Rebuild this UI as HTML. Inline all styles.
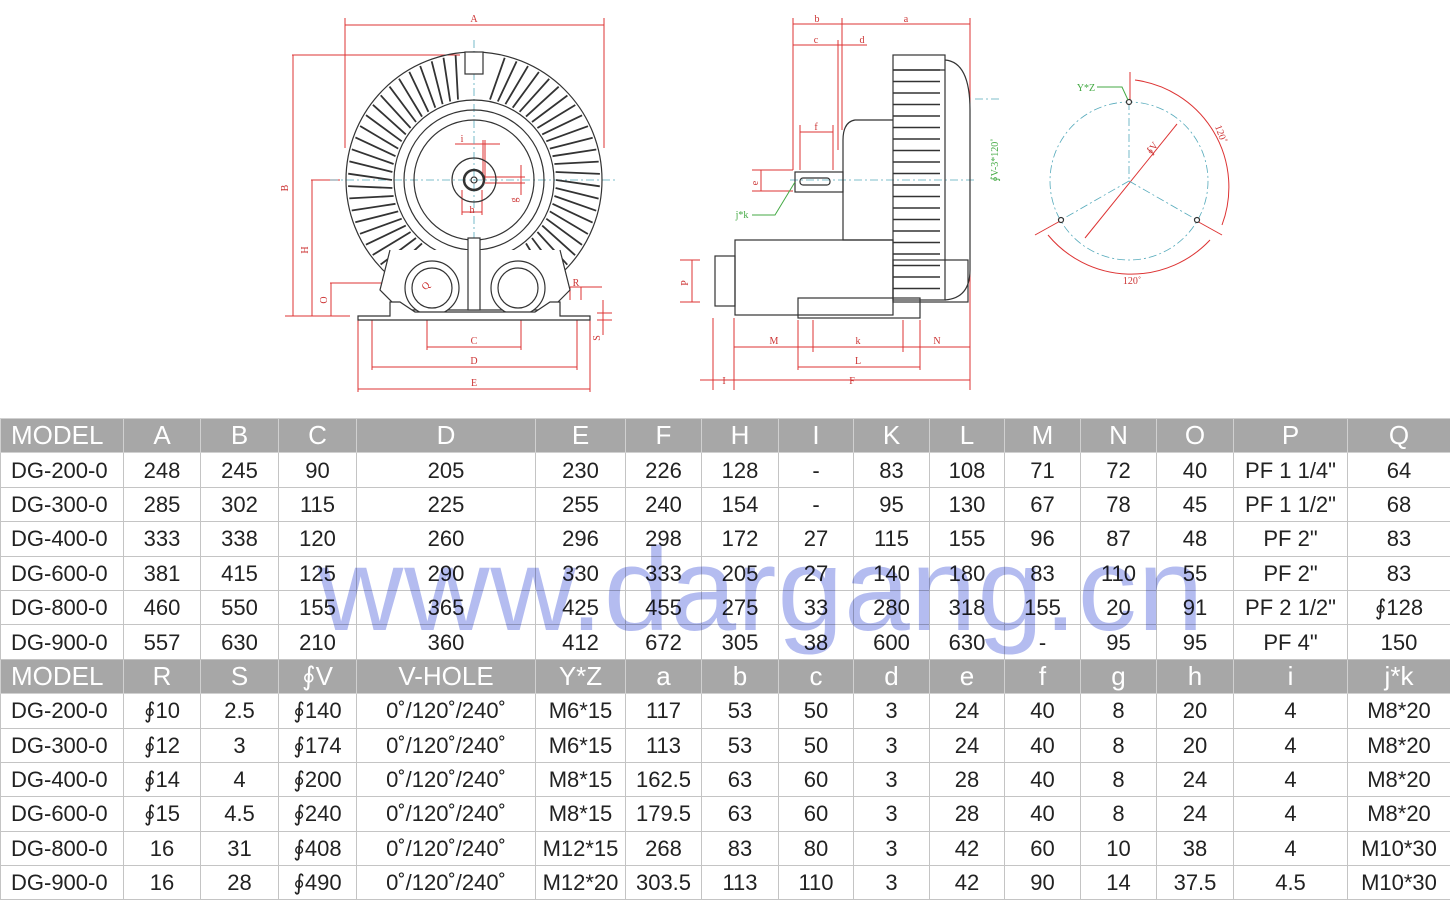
<!DOCTYPE html>
<html><head><meta charset="utf-8"><style>
body{margin:0;width:1450px;height:900px;background:#fff;position:relative;overflow:hidden;font-family:"Liberation Sans",sans-serif}
svg{position:absolute;left:0;top:0}
table{position:absolute;left:0;top:418px;width:1450px;border-collapse:collapse;table-layout:fixed}
td{height:33.4px;padding:0;text-align:center;font-size:22px;color:#222;border:1px solid #c4c4c4;line-height:33px;white-space:nowrap}
tr.h td{background:#a7a7a7;color:#fff;font-size:26px;border-color:#d0d0d0}
td:first-child{text-align:left;padding-left:10px}
#wm{position:absolute;left:318px;top:522px;font-size:118px;color:#b4bcf0;mix-blend-mode:multiply;letter-spacing:1px;font-family:"Liberation Sans",sans-serif;z-index:5}
</style></head><body>
<svg width="1450" height="418" viewBox="0 0 1450 418" font-family="Liberation Serif" font-size="10">
<g stroke="#d33" stroke-width="1" fill="none">
<line x1="345" y1="25" x2="604" y2="25"/><line x1="345" y1="18" x2="345" y2="148"/><line x1="604" y1="18" x2="604" y2="148"/>
<line x1="292" y1="55" x2="460" y2="55"/><line x1="293" y1="55" x2="293" y2="316"/>
<line x1="311" y1="180" x2="340" y2="180"/><line x1="312" y1="180" x2="312" y2="316"/>
<line x1="330" y1="283" x2="420" y2="283"/><line x1="331" y1="283" x2="331" y2="316"/>
<line x1="285" y1="316" x2="350" y2="316"/>
<line x1="427" y1="290" x2="427" y2="350"/><line x1="521" y1="290" x2="521" y2="350"/><line x1="427" y1="347" x2="521" y2="347"/>
<line x1="372" y1="320" x2="372" y2="370"/><line x1="577" y1="320" x2="577" y2="370"/><line x1="372" y1="367" x2="577" y2="367"/>
<line x1="358" y1="320" x2="358" y2="392"/><line x1="590" y1="320" x2="590" y2="392"/><line x1="358" y1="389" x2="590" y2="389"/>
<line x1="570" y1="287" x2="602" y2="287"/><line x1="570" y1="287" x2="570" y2="300"/><line x1="581" y1="287" x2="581" y2="300"/>
<line x1="603" y1="300" x2="603" y2="335"/><line x1="597" y1="313" x2="612" y2="313"/><line x1="597" y1="320" x2="612" y2="320"/>
<line x1="400" y1="268" x2="445" y2="310"/>
<line x1="455" y1="144" x2="500" y2="144"/><line x1="483" y1="140" x2="483" y2="180"/><line x1="485" y1="140" x2="485" y2="180"/>
<line x1="485" y1="177" x2="525" y2="177"/><line x1="485" y1="183" x2="525" y2="183"/><line x1="521" y1="165" x2="521" y2="195"/>
<line x1="462" y1="190" x2="462" y2="215"/><line x1="482" y1="190" x2="482" y2="215"/><line x1="462" y1="212" x2="482" y2="212"/>
<line x1="793" y1="24" x2="970" y2="24"/><line x1="793" y1="18" x2="793" y2="170"/><line x1="842" y1="18" x2="842" y2="130"/><line x1="970" y1="18" x2="970" y2="390"/>
<line x1="793" y1="45" x2="867" y2="45"/><line x1="838" y1="40" x2="838" y2="150"/>
<line x1="800" y1="132" x2="833" y2="132"/><line x1="800" y1="125" x2="800" y2="170"/><line x1="833" y1="125" x2="833" y2="170"/>
<line x1="752" y1="170" x2="793" y2="170"/><line x1="752" y1="191" x2="793" y2="191"/><line x1="761" y1="170" x2="761" y2="191"/>
<line x1="680" y1="260" x2="700" y2="260"/><line x1="680" y1="302" x2="700" y2="302"/><line x1="692" y1="260" x2="692" y2="302"/>
<line x1="713" y1="318" x2="713" y2="390"/><line x1="734" y1="318" x2="734" y2="390"/><line x1="700" y1="380" x2="970" y2="380"/>
<line x1="734" y1="347" x2="970" y2="347"/><line x1="798" y1="320" x2="798" y2="370"/><line x1="813" y1="320" x2="813" y2="352"/><line x1="903" y1="320" x2="903" y2="352"/><line x1="920" y1="320" x2="920" y2="370"/>
<line x1="798" y1="367" x2="920" y2="367"/>
<line x1="1085" y1="238" x2="1177" y2="124"/>
<line x1="1130" y1="72" x2="1130" y2="100"/>
<path d="M1135 80 A108 108 0 0 1 1222 225"/><path d="M1048 235 A108 108 0 0 0 1210 240"/>
<line x1="1195" y1="220" x2="1222" y2="235"/><line x1="1035" y1="235" x2="1062" y2="220"/>
</g>
<g stroke="#5ab" stroke-width="0.8" fill="none" stroke-dasharray="8,3,2,3">
<circle cx="1129" cy="181" r="79"/>
<line x1="1129" y1="102" x2="1129" y2="181"/><line x1="1129" y1="181" x2="1061" y2="220"/><line x1="1129" y1="181" x2="1197" y2="220"/>
<line x1="474" y1="40" x2="474" y2="320"/><line x1="330" y1="180" x2="615" y2="180"/>
<line x1="790" y1="180" x2="975" y2="180"/><line x1="975" y1="99" x2="1000" y2="99"/>
</g>
<g fill="#fff" stroke="#333" stroke-width="1.2">
<circle cx="1129" cy="102" r="2.5"/><circle cx="1061" cy="220" r="2.5"/><circle cx="1197" cy="220" r="2.5"/>
</g>
<g stroke="#333" stroke-width="1.8"><path id="fins" d=""/></g>
<g stroke="#333" fill="none" stroke-width="1.2">
<circle cx="474" cy="180" r="128"/><circle cx="474" cy="180" r="80"/><circle cx="474" cy="180" r="70"/><circle cx="474" cy="180" r="60"/>
<circle cx="474" cy="180" r="22"/><circle cx="474" cy="180" r="10" stroke-width="2.5"/><circle cx="474" cy="180" r="3"/>
<path d="M390 250 L380 290 L400 310 L550 310 L570 290 L560 250" fill="#fff"/>
<circle cx="432" cy="288" r="27" fill="#fff"/><circle cx="518" cy="288" r="27" fill="#fff"/>
<circle cx="432" cy="288" r="20"/><circle cx="518" cy="288" r="20"/>
<rect x="468" y="238" width="12" height="72" fill="#fff"/>
<rect x="465" y="52" width="18" height="22" fill="#fff"/>
<path d="M358 316 L390 316 L390 302 L400 302 L415 312 L535 312 L550 302 L560 302 L560 316 L590 316 L590 320 L358 320 Z" fill="#fff"/>
</g>
<g stroke="#333" fill="none" stroke-width="1.2">
<rect x="893" y="55" width="52" height="245"/><path d="M945 60 Q970 62 970 110 L970 270 Q970 298 945 300"/>
<path d="M893 120 L855 120 Q843 122 843 140 L843 240 L893 240"/>
<rect x="795" y="172" width="48" height="20"/><rect x="800" y="178" width="30" height="7" rx="3"/>
<rect x="735" y="240" width="158" height="75"/><rect x="715" y="256" width="20" height="50"/>
<rect x="798" y="298" width="122" height="20"/><rect x="893" y="260" width="75" height="42"/>
<line x1="893" y1="70" x2="945" y2="70"/>
</g>
<g stroke="#333" stroke-width="1.6" id="sfins"></g>
<g font-family="Liberation Serif" font-size="10" fill="#c33" text-anchor="middle">
<text x="474" y="22">A</text><text x="288" y="188" transform="rotate(-90 288 188)">B</text><text x="308" y="250" transform="rotate(-90 308 250)">H</text>
<text x="327" y="300" transform="rotate(-90 327 300)">O</text><text x="474" y="344">C</text><text x="474" y="364">D</text><text x="474" y="386">E</text>
<text x="576" y="286">R</text><text x="600" y="338" transform="rotate(-90 600 338)">S</text><text x="428" y="288" transform="rotate(-45 428 288)">Q</text>
<text x="462" y="142">i</text><text x="472" y="213">h</text><text x="517" y="200" transform="rotate(-90 517 200)">g</text>
<text x="817" y="22">b</text><text x="906" y="22">a</text><text x="816" y="43">c</text><text x="862" y="43">d</text><text x="816" y="130">f</text>
<text x="758" y="183" transform="rotate(-90 758 183)">e</text><text x="688" y="283" transform="rotate(-90 688 283)">P</text>
<text x="774" y="344">M</text><text x="858" y="344">k</text><text x="937" y="344">N</text><text x="858" y="364">L</text><text x="724" y="384">I</text><text x="852" y="384">F</text>
<text x="1155" y="150" transform="rotate(-55 1155 150)">∮V</text><text x="1218" y="135" transform="rotate(70 1218 135)">120˚</text><text x="1132" y="284">120˚</text>
</g>
<g font-family="Liberation Serif" font-size="10" fill="#4a4" text-anchor="middle">
<text x="1086" y="91">Y*Z</text><text x="742" y="218">j*k</text><text x="998" y="160" transform="rotate(-90 998 160)">∮V-3*120˚</text>
</g>
<g stroke="#4a4" fill="none"><path d="M1097 87 L1122 87 L1128 100"/><path d="M752 215 L775 215 L795 182"/></g>
</svg>
<script>
var s="",c=474,cy=180;for(var i=0;i<64;i++){var a=i*2*Math.PI/64;var d=a*180/Math.PI;if(d>84&&d<96)continue;if(d>235&&d<305)continue;var x1=c+82*Math.cos(a),y1=cy-82*Math.sin(a),x2=c+126*Math.cos(a-0.05),y2=cy-126*Math.sin(a-0.05);s+="M"+x1.toFixed(1)+" "+y1.toFixed(1)+"L"+x2.toFixed(1)+" "+y2.toFixed(1);}
document.getElementById("fins").setAttribute("d",s);
var g=document.getElementById("sfins"),h="";for(var y=70;y<300;y+=11.5){h+='<line x1="893" y1="'+y+'" x2="940" y2="'+y+'"/>';}g.innerHTML=h;
</script>
<div id="wm">www.dargang.cn</div>
<table>
<colgroup><col style="width:123px"><col style="width:77px"><col style="width:78px"><col style="width:78px"><col style="width:179px"><col style="width:90px"><col style="width:76px"><col style="width:77px"><col style="width:75px"><col style="width:76px"><col style="width:75px"><col style="width:76px"><col style="width:76px"><col style="width:77px"><col style="width:114px"><col style="width:103px"></colgroup>
<tr class="h"><td>MODEL</td><td>A</td><td>B</td><td>C</td><td>D</td><td>E</td><td>F</td><td>H</td><td>I</td><td>K</td><td>L</td><td>M</td><td>N</td><td>O</td><td>P</td><td>Q</td></tr>
<tr><td>DG-200-0</td><td>248</td><td>245</td><td>90</td><td>205</td><td>230</td><td>226</td><td>128</td><td>-</td><td>83</td><td>108</td><td>71</td><td>72</td><td>40</td><td>PF 1 1/4"</td><td>64</td></tr>
<tr><td>DG-300-0</td><td>285</td><td>302</td><td>115</td><td>225</td><td>255</td><td>240</td><td>154</td><td>-</td><td>95</td><td>130</td><td>67</td><td>78</td><td>45</td><td>PF 1 1/2"</td><td>68</td></tr>
<tr><td>DG-400-0</td><td>333</td><td>338</td><td>120</td><td>260</td><td>296</td><td>298</td><td>172</td><td>27</td><td>115</td><td>155</td><td>96</td><td>87</td><td>48</td><td>PF 2"</td><td>83</td></tr>
<tr><td>DG-600-0</td><td>381</td><td>415</td><td>125</td><td>290</td><td>330</td><td>333</td><td>205</td><td>27</td><td>140</td><td>180</td><td>83</td><td>110</td><td>55</td><td>PF 2"</td><td>83</td></tr>
<tr><td>DG-800-0</td><td>460</td><td>550</td><td>155</td><td>365</td><td>425</td><td>455</td><td>275</td><td>33</td><td>280</td><td>318</td><td>155</td><td>20</td><td>91</td><td>PF 2 1/2"</td><td>∮128</td></tr>
<tr><td>DG-900-0</td><td>557</td><td>630</td><td>210</td><td>360</td><td>412</td><td>672</td><td>305</td><td>38</td><td>600</td><td>630</td><td>-</td><td>95</td><td>95</td><td>PF 4"</td><td>150</td></tr>
<tr class="h"><td>MODEL</td><td>R</td><td>S</td><td>∮V</td><td>V-HOLE</td><td>Y*Z</td><td>a</td><td>b</td><td>c</td><td>d</td><td>e</td><td>f</td><td>g</td><td>h</td><td>i</td><td>j*k</td></tr>
<tr><td>DG-200-0</td><td>∮10</td><td>2.5</td><td>∮140</td><td>0˚/120˚/240˚</td><td>M6*15</td><td>117</td><td>53</td><td>50</td><td>3</td><td>24</td><td>40</td><td>8</td><td>20</td><td>4</td><td>M8*20</td></tr>
<tr><td>DG-300-0</td><td>∮12</td><td>3</td><td>∮174</td><td>0˚/120˚/240˚</td><td>M6*15</td><td>113</td><td>53</td><td>50</td><td>3</td><td>24</td><td>40</td><td>8</td><td>20</td><td>4</td><td>M8*20</td></tr>
<tr><td>DG-400-0</td><td>∮14</td><td>4</td><td>∮200</td><td>0˚/120˚/240˚</td><td>M8*15</td><td>162.5</td><td>63</td><td>60</td><td>3</td><td>28</td><td>40</td><td>8</td><td>24</td><td>4</td><td>M8*20</td></tr>
<tr><td>DG-600-0</td><td>∮15</td><td>4.5</td><td>∮240</td><td>0˚/120˚/240˚</td><td>M8*15</td><td>179.5</td><td>63</td><td>60</td><td>3</td><td>28</td><td>40</td><td>8</td><td>24</td><td>4</td><td>M8*20</td></tr>
<tr><td>DG-800-0</td><td>16</td><td>31</td><td>∮408</td><td>0˚/120˚/240˚</td><td>M12*15</td><td>268</td><td>83</td><td>80</td><td>3</td><td>42</td><td>60</td><td>10</td><td>38</td><td>4</td><td>M10*30</td></tr>
<tr><td>DG-900-0</td><td>16</td><td>28</td><td>∮490</td><td>0˚/120˚/240˚</td><td>M12*20</td><td>303.5</td><td>113</td><td>110</td><td>3</td><td>42</td><td>90</td><td>14</td><td>37.5</td><td>4.5</td><td>M10*30</td></tr>
</table>
</body></html>
